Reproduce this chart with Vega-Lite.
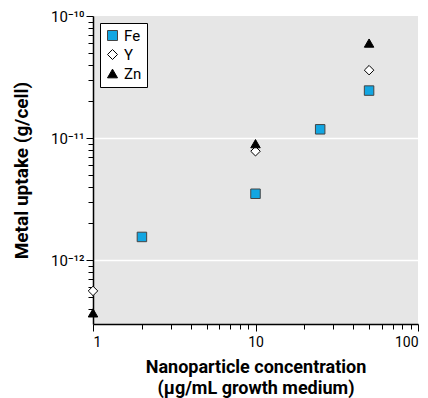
{
  "$schema": "https://vega.github.io/schema/vega-lite/v6.json",
  "autosize": "none",
  "width": 325,
  "height": 308,
  "padding": {"left": 93, "top": 16, "right": 10, "bottom": 74},
  "background": "white",
  "config": {
    "view": {"fill": "#e6e6e6", "stroke": null},
    "font": "Roboto"
  },
  "data": {
    "values": [
      {"metal": "Fe", "conc": 2, "uptake": 1.55e-12},
      {"metal": "Fe", "conc": 10, "uptake": 3.5e-12},
      {"metal": "Fe", "conc": 25, "uptake": 1.18e-11},
      {"metal": "Fe", "conc": 50, "uptake": 2.45e-11},
      {"metal": "Y", "conc": 1, "uptake": 5.6e-13},
      {"metal": "Y", "conc": 10, "uptake": 7.8e-12},
      {"metal": "Y", "conc": 50, "uptake": 3.6e-11},
      {"metal": "Zn", "conc": 1, "uptake": 3.7e-13},
      {"metal": "Zn", "conc": 10, "uptake": 9.0e-12},
      {"metal": "Zn", "conc": 50, "uptake": 6.0e-11}
    ]
  },
  "mark": {"type": "point", "filled": true, "size": 90, "strokeWidth": 1, "opacity": 1, "clip": false},
  "encoding": {
    "x": {
      "field": "conc", "type": "quantitative",
      "scale": {"type": "log", "domain": [1, 100], "nice": false},
      "axis": {
        "values": [1,2,3,4,5,6,7,8,9,10,20,30,40,50,60,70,80,90,100],
        "labelExpr": "datum.value == 1 ? '1' : datum.value == 10 ? '10' : datum.value == 100 ? '100' : ''",
        "grid": false,
        "domainColor": "black", "domainWidth": 1.5,
        "tickColor": "black",
        "tickSize": {"condition": {"test": "datum.value == 1 || datum.value == 10 || datum.value == 100", "value": 7}, "value": 5},
        "labelFontSize": 14, "labelColor": "black", "labelPadding": 4, "labelFont": "Roboto",
        "title": ["Nanoparticle concentration", "(μg/mL growth medium)"],
        "titleFontSize": 18, "titleFontWeight": "bold", "titleColor": "black", "titlePadding": 9, "titleLineHeight": 21, "titleFont": "Roboto"
      }
    },
    "y": {
      "field": "uptake", "type": "quantitative",
      "scale": {"type": "log", "domain": [3e-13, 1e-10], "nice": false},
      "axis": {
        "values": [4e-13,5e-13,6e-13,7e-13,8e-13,9e-13,1e-12,2e-12,3e-12,4e-12,5e-12,6e-12,7e-12,8e-12,9e-12,1e-11,2e-11,3e-11,4e-11,5e-11,6e-11,7e-11,8e-11,9e-11,1e-10],
        "labelExpr": "datum.value == 1e-10 ? '10⁻¹⁰' : datum.value == 1e-11 ? '10⁻¹¹' : datum.value == 1e-12 ? '10⁻¹²' : ''",
        "grid": true,
        "gridColor": "white",
        "gridWidth": 1.5,
        "gridOpacity": {"condition": {"test": "datum.value == 1e-11 || datum.value == 1e-12", "value": 1}, "value": 0},
        "domainColor": "black", "domainWidth": 1.5,
        "tickColor": "black",
        "tickSize": {"condition": {"test": "datum.value == 1e-10 || datum.value == 1e-11 || datum.value == 1e-12", "value": 7}, "value": 5},
        "labelFontSize": 15, "labelColor": "black", "labelPadding": 2, "labelFont": "Roboto",
        "title": "Metal uptake (g/cell)",
        "titleFontSize": 19, "titleFontWeight": "bold", "titleColor": "black", "titlePadding": 19, "titleFont": "Roboto"
      }
    },
    "shape": {
      "field": "metal", "type": "nominal",
      "scale": {"domain": ["Fe", "Y", "Zn"], "range": ["square", "diamond", "triangle-up"]},
      "legend": {
        "title": null, "orient": "top-left", "offset": 7,
        "fillColor": "white", "strokeColor": "black",
        "padding": 5, "labelFontSize": 15, "labelColor": "black", "labelFont": "Roboto",
        "symbolSize": 100, "rowPadding": 3, "symbolStrokeWidth": 1
      }
    },
    "fill": {
      "field": "metal", "type": "nominal",
      "scale": {"domain": ["Fe", "Y", "Zn"], "range": ["#12a6e2", "white", "black"]},
      "legend": {"title": null, "orient": "top-left", "offset": 7}
    },
    "stroke": {
      "field": "metal", "type": "nominal",
      "scale": {"domain": ["Fe", "Y", "Zn"], "range": ["#444444", "black", "black"]},
      "legend": {"title": null, "orient": "top-left", "offset": 7}
    }
  }
}
